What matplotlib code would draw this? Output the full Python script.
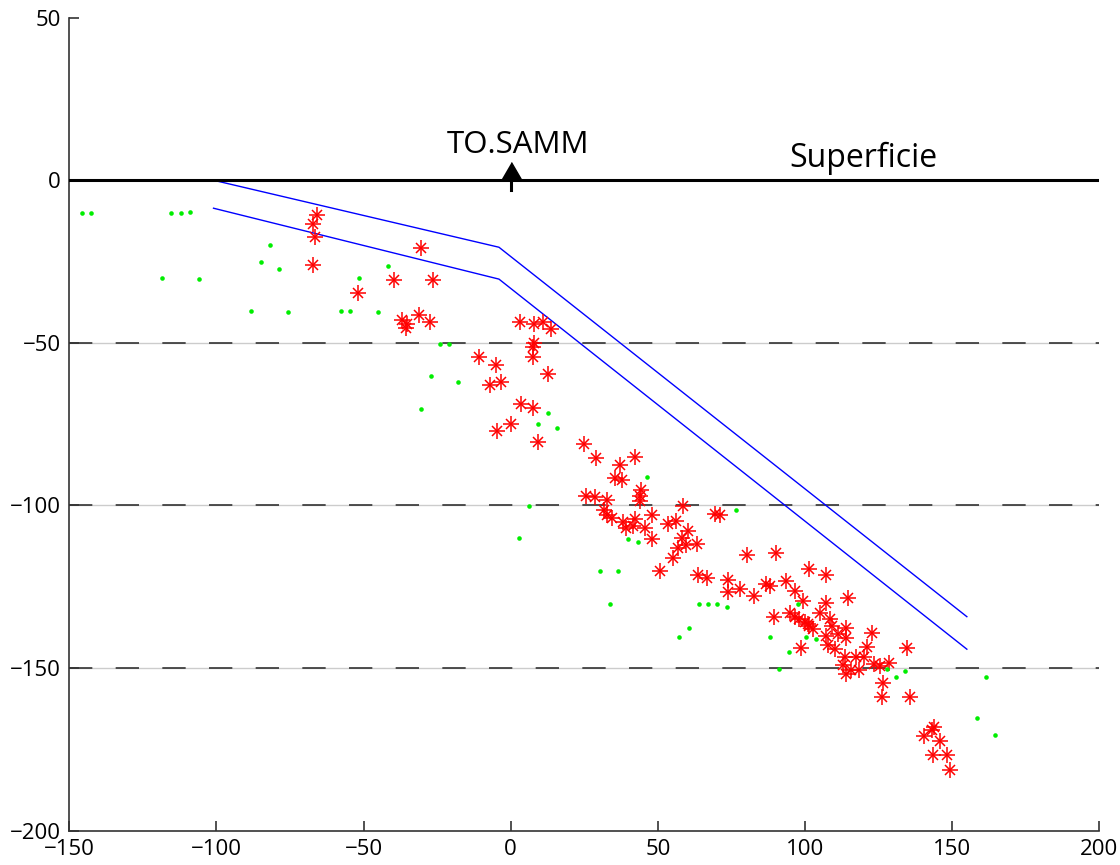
import numpy as np
import matplotlib
matplotlib.use('Agg')
from matplotlib import pyplot as plt

plt.rcParams['font.family'] = ['Open Sans', 'DejaVu Sans']

# red asterisks (x, depth)
red_x = [-66, -67.1, -66.5, -67.1, -52, -39.6, -30.5, -26.4,
         -37, -35.2, -35.5, -31.2, -27.5,
         3, 8, 10.8, 13.8, 7.9, 7.7, 7.4,
         -10.7, -5.1, -6.9, -3.2, 12.8, 3.6, 7.6,
         -4.5, 0, 9.3, 25, 29.1,
         42.1, 37.3, 35.3, 37.7, 44.1, 43.8,
         25.5, 28.8, 32.7, 31.6, 32.7, 43.8,
         34.5, 38.3, 42.2, 41.7, 39.3, 45.5, 48, 48,
         58.6, 69.5, 71, 53.4, 56.2, 60.3, 58.3, 59.4, 56.9, 63.3, 55.2, 50.6,
         63.7, 66.7, 74, 74, 78, 82.8, 80.3, 90.3,
         86.9, 88, 93.5, 96.6, 89.3, 94.9,
         99.2, 101.5, 107.2, 114.7, 107.2, 105,
         96.6, 98, 99.9, 101.4, 102.8, 101,
         108.4, 109.3, 113.9, 111.3, 107.1, 113.9, 122.8,
         107.9, 110.1, 98.6, 121.1,
         113.6, 117.4, 120.2, 113, 115.7, 118.3, 123.3, 125.4, 128.5, 113.9, 126.5, 134.5, 126, 135.6,
         140.6, 143.2, 144, 145.8, 143.6, 148.1, 149.4]
red_y = [-10.7, -13.5, -17.6, -26.1, -34.6, -30.7, -20.7, -30.7,
         -43, -44.2, -45.5, -41.4, -43.7,
         -43.7, -44.2, -43.7, -45.7, -50.1, -51.2, -54.2,
         -54.3, -56.9, -62.9, -62, -59.6, -68.8, -70.1,
         -77.1, -75.1, -80.4, -81, -85.3,
         -85.1, -87.6, -91.5, -92.2, -95.1, -97.2,
         -97.2, -97.4, -98.4, -101.5, -103, -98.7,
         -104, -105.1, -104.3, -106.4, -106.9, -106.9, -102.8, -110.2,
         -100.2, -102.5, -103, -105.6, -104.9, -107.8, -109.9, -112.3, -113.1, -111.7, -116.3, -120.3,
         -121.5, -122.2, -122.8, -126.6, -125.8, -127.9, -115.1, -114.6,
         -124, -124.8, -123.2, -126.3, -134.3, -133.1,
         -129.3, -119.6, -121.5, -128.5, -130, -133,
         -134.3, -134.8, -135.9, -137.2, -138.1, -136.4,
         -134.8, -137.2, -137.6, -139.4, -140, -140.7, -139.3,
         -142.8, -144.1, -143.9, -143.6,
         -146.7, -146.7, -146.7, -149.2, -150.7, -150.5, -148.9, -149.5, -148.5, -151.9, -154.5, -143.8, -159, -159,
         -170.8, -169.2, -168.2, -172.3, -176.7, -176.7, -181.3]

# green dots
green_x = [-145.8, -142.7, -115.4, -112.1, -109.1, -81.8, -85, -78.7, -118.6, -106,
           -51.4, -41.8, -88.2, -75.6, -57.6, -54.6, -45.1,
           -24.1, -21, -27.2, -17.9, -30.4, 12.5, 9.4, 15.8, 6.2, 2.7,
           46.2, 76.7, 39.8, 43.1, 30.4, 36.6, 33.6, 63.9, 67, 70.2, 73.4, 97.5,
           57.3, 60.7, 88.1, 94.4, 91.2, 100.5, 103.8, 128, 131, 134,
           161.5, 158.3, 164.7]
green_y = [-10, -10, -10, -10, -9.7, -20, -25, -27.3, -30.1, -30.5,
           -30.1, -26.5, -40.2, -40.6, -40.2, -40.2, -40.6,
           -50.2, -50.2, -60.1, -61.9, -70.2, -71.7, -75.1, -76.1, -100.2, -110,
           -91.3, -101.5, -110.2, -111.3, -120.3, -120.3, -130.3, -130.3, -130.3, -130.3, -131.3, -130.3,
           -140.3, -137.6, -140.3, -145.2, -150.3, -140.3, -141, -150.3, -152.8, -151,
           -152.9, -165.3, -170.7]

# slab boundaries
upper_x = [-101, -4, 155]
upper_y = [0, -20.6, -134.2]
lower_x = [-101, -4, 155]
lower_y = [-8.6, -30.4, -144.2]

ref_depths = [-50, -100, -150]
station_x = 0

fig = plt.figure(figsize=(11.2, 8.65), dpi=100)
ax = fig.add_axes([0.0619, 0.0397, 0.9196, 0.9399])

for d in ref_depths:
    ax.axhline(d, color='#cccccc', lw=1.0, zorder=1)
    ax.axhline(d, color='#333333', lw=1.2, dashes=(14, 14), zorder=1.1)

ax.axhline(0, color='black', lw=2.2, zorder=3)

ax.plot(upper_x, upper_y, color='blue', lw=1.0, zorder=2)
ax.plot(lower_x, lower_y, color='blue', lw=1.0, zorder=2)

# asterisk = plus + cross
ax.plot(red_x, red_y, ls='none', marker='+', ms=11, mew=1.1, color='red', zorder=4)
ax.plot(red_x, red_y, ls='none', marker='x', ms=7.8, mew=1.1, color='red', zorder=4)
ax.plot(green_x, green_y, ls='none', marker='o', ms=3.3, mew=0, color='#00ee00', zorder=5)

tri = [(-1, -0.86), (1, -0.86), (0, 0.86)]
ax.plot(station_x, 2.8, marker=tri, ms=15, color='black', zorder=6)
ax.plot([station_x, station_x], [0, -3.1], color='black', lw=2.2, zorder=6)
ax.text(station_x + 2.6, 8.3, 'TO.SAMM', ha='center', va='baseline', fontsize=22.5)
ax.text(120, 4.1, 'Superficie', ha='center', va='baseline', fontsize=23)

ax.set_xlim(-150, 200)
ax.set_ylim(-200, 50)
ax.set_xticks(np.arange(-150, 201, 50))
ax.set_yticks(np.arange(-200, 51, 50))
ax.spines['top'].set_visible(False)
ax.spines['right'].set_visible(False)
for s in ['left', 'bottom']:
    ax.spines[s].set_color('#333333')
    ax.spines[s].set_linewidth(1.2)
ax.tick_params(direction='in', length=7, width=1.2, color='#333333', labelsize=16, pad=6)

fig.savefig('out.png', dpi=100)
